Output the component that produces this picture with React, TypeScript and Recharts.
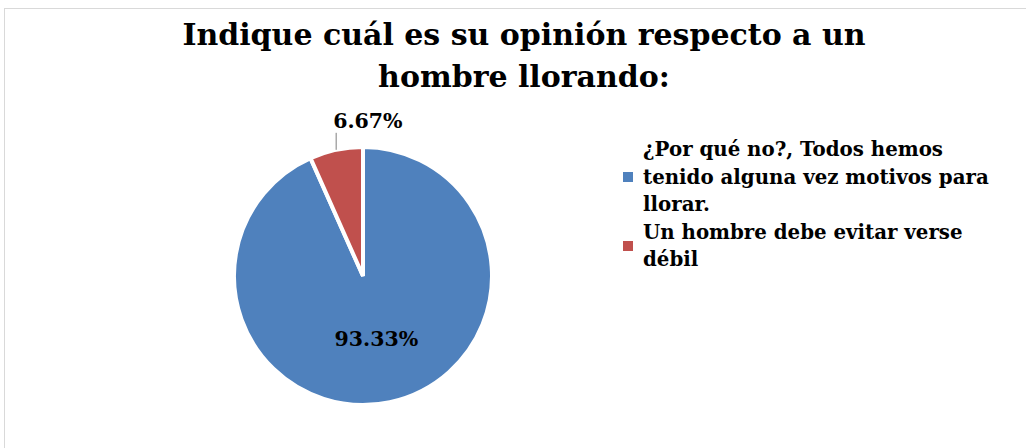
import React from 'react';
import { PieChart, Pie, Cell, Legend } from 'recharts';

const categories = [
  '¿Por qué no?, Todos hemos tenido alguna vez motivos para llorar.',
  'Un hombre debe evitar verse débil',
];
const values = [93.33, 6.67];
const colors = ['#4F81BD', '#C0504D'];
const title = ['Indique cuál es su opinión respecto a un', 'hombre llorando:'];

const data = categories.map((name, i) => ({ name, value: values[i] }));

const FONT = '"DejaVu Serif", "Liberation Serif", serif';
const RAD = Math.PI / 180;

const renderLabel = (props: any) => {
  const { cx, cy, midAngle, outerRadius, index, value } = props;
  const text = `${value.toFixed(2)}%`;
  if (index === 0) {
    const r = outerRadius * 0.5;
    const x = cx + r * Math.cos(-midAngle * RAD);
    const y = cy + r * Math.sin(-midAngle * RAD);
    return (
      <text x={x} y={y} textAnchor="middle" dominantBaseline="central"
        fontFamily={FONT} fontWeight="bold" fontSize={20.5} fill="#000">
        {text}
      </text>
    );
  }
  const px = cx + outerRadius * Math.cos(-midAngle * RAD);
  const py = cy + outerRadius * Math.sin(-midAngle * RAD);
  return (
    <g>
      <line x1={px} y1={py} x2={px} y2={py - 17} stroke="#7f7f7f" strokeWidth={1} />
      <text x={px - 3} y={py - 22} textAnchor="start"
        fontFamily={FONT} fontWeight="bold" fontSize={20.5} fill="#000">
        {text}
      </text>
    </g>
  );
};

const renderLegend = () => (
  <div style={{ width: 385, fontFamily: FONT, fontWeight: 'bold', fontSize: 19.8, lineHeight: '27.5px', color: '#000' }}>
    {data.map((d, i) => (
      <div key={d.name} style={{ display: 'flex', alignItems: 'center' }}>
        <span style={{ width: 10, height: 10, background: colors[i], marginRight: 10, flexShrink: 0 }} />
        <span style={{ width: 362 }}>{d.name}</span>
      </div>
    ))}
  </div>
);

export default function App() {
  return (
    <div style={{ position: 'absolute', left: 0, top: 0, width: 1026, height: 448, background: '#fff', overflow: 'hidden' }}>
      <div style={{ position: 'absolute', left: 4, top: 8, width: 1040, height: 460, border: '1px solid #d9d9d9' }} />
      <div style={{ position: 'absolute', left: 0, top: 14, width: 1048, textAlign: 'center', fontFamily: FONT, fontWeight: 'bold', fontSize: 30, lineHeight: '42px', color: '#000' }}>
        {title.map((t) => (<div key={t}>{t}</div>))}
      </div>
      <div style={{ position: 'absolute', left: 0, top: 0 }}>
        <PieChart width={1026} height={448} margin={{ top: 0, right: 0, bottom: 0, left: 0 }}>
          <Pie
            data={data}
            dataKey="value"
            nameKey="name"
            cx={363}
            cy={276}
            outerRadius={129}
            startAngle={90}
            endAngle={-270}
            stroke="#fff"
            strokeWidth={4}
            label={renderLabel}
            labelLine={false}
            isAnimationActive={false}
          >
            {data.map((d, i) => (
              <Cell key={d.name} fill={colors[i]} />
            ))}
          </Pie>
          <Legend
            layout="vertical"
            content={renderLegend}
            wrapperStyle={{ left: 623, top: 136, width: 385 }}
          />
        </PieChart>
      </div>
    </div>
  );
}
